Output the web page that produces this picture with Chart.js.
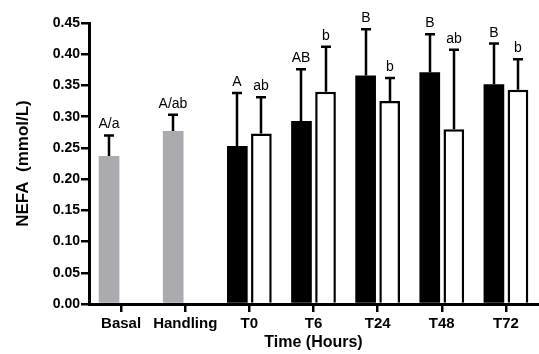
<!DOCTYPE html>
<html>
<head>
<meta charset="utf-8">
<script src="https://cdn.jsdelivr.net/npm/chart.js@4/dist/chart.umd.min.js"></script>
<style>
  html, body { margin: 0; padding: 0; background: #fff; }
  #wrap { width: 539px; height: 354px; }
</style>
</head>
<body>
<div id="wrap"><canvas id="c" width="539" height="354"></canvas></div>
<script>
// ---- Data ----
const categories = ['Basal', 'Handling', 'T0', 'T6', 'T24', 'T48', 'T72'];
const group1Values = [0.237, 0.277, 0.253, 0.293, 0.366, 0.371, 0.352];
const group1Errors = [0.033, 0.026, 0.085, 0.083, 0.074, 0.061, 0.065];
const group1Letters = ['A/a', 'A/ab', 'A', 'AB', 'B', 'B', 'B'];
const group2Values = [null, null, 0.273, 0.340, 0.325, 0.280, 0.343];
const group2Errors = [null, null, 0.058, 0.072, 0.037, 0.127, 0.049];
const group2Letters = [null, null, 'ab', 'b', 'b', 'ab', 'b'];
const yTicks = [0, 0.05, 0.10, 0.15, 0.20, 0.25, 0.30, 0.35, 0.40, 0.45];

const FONT = "'Liberation Sans', Arial, Helvetica, sans-serif";
const GREY = '#ababaf';

const errorPlugin = {
  id: 'errorBarsAndLetters',
  afterDatasetsDraw(chart) {
    const ctx = chart.ctx;
    const yScale = chart.scales.y;
    chart.data.datasets.forEach((ds, i) => {
      const meta = chart.getDatasetMeta(i);
      meta.data.forEach((el, j) => {
        const v = ds.data[j];
        if (v === null || v === undefined) return;
        const err = ds.errors[j];
        const x = Math.round(el.x);
        const yTop = el.y;
        const yErr = yScale.getPixelForValue(v + err);
        ctx.save();
        ctx.strokeStyle = '#000';
        ctx.lineWidth = 2.5;
        ctx.beginPath();
        ctx.moveTo(x, yTop);
        ctx.lineTo(x, yErr);
        ctx.moveTo(x - 5, yErr);
        ctx.lineTo(x + 5, yErr);
        ctx.stroke();
        const letter = ds.letters[j];
        if (letter) {
          ctx.fillStyle = '#000';
          ctx.font = '14px ' + FONT;
          ctx.textAlign = 'center';
          ctx.textBaseline = 'alphabetic';
          ctx.fillText(letter, x, yErr - 7);
        }
        ctx.restore();
      });
    });
  }
};

new Chart(document.getElementById('c'), {
  type: 'bar',
  data: {
    labels: categories,
    datasets: [
      {
        label: 'Group 1',
        data: group1Values,
        errors: group1Errors,
        letters: group1Letters,
        backgroundColor: categories.map((c, i) => i < 2 ? GREY : '#000'),
        borderColor: categories.map((c, i) => i < 2 ? GREY : '#000'),
        borderWidth: 0,
        barPercentage: 0.86,
        categoryPercentage: 0.75
      },
      {
        label: 'Group 2',
        data: group2Values,
        errors: group2Errors,
        letters: group2Letters,
        backgroundColor: '#fff',
        borderColor: '#000',
        borderWidth: 2.5,
        barPercentage: 0.86,
        categoryPercentage: 0.75
      }
    ]
  },
  options: {
    responsive: false,
    animation: false,
    devicePixelRatio: 1,
    layout: { padding: { top: 23, right: 1, bottom: 0, left: 0 } },
    plugins: {
      legend: { display: false },
      tooltip: { enabled: false }
    },
    scales: {
      x: {
        offset: true,
        grid: {
          offset: false,
          drawOnChartArea: false,
          drawTicks: true,
          tickLength: 8,
          color: '#000',
          lineWidth: 2.5
        },
        border: { display: true, color: '#000', width: 3 },
        ticks: {
          color: '#000',
          font: { family: FONT, size: 15, weight: 'bold' },
          padding: 3,
          maxRotation: 0,
          autoSkip: false
        },
        title: {
          display: true,
          text: 'Time (Hours)',
          color: '#000',
          font: { family: FONT, size: 16, weight: 'bold' },
          padding: { top: 0, bottom: 2 }
        },
        afterFit(scale) { scale.height = 50; }
      },
      y: {
        min: 0,
        max: 0.45,
        afterBuildTicks(scale) { scale.ticks = yTicks.map(v => ({ value: v })); },
        grid: {
          drawOnChartArea: false,
          drawTicks: true,
          tickLength: 8,
          color: '#000',
          lineWidth: 2.5
        },
        border: { display: true, color: '#000', width: 3 },
        ticks: {
          color: '#000',
          font: { family: FONT, size: 14, weight: 'bold' },
          padding: 1,
          callback: (v) => Number(v).toFixed(2)
        },
        title: {
          display: true,
          text: 'NEFA  (mmol/L)',
          color: '#000',
          font: { family: FONT, size: 17, weight: 'bold' },
          padding: { top: 13, bottom: 0 }
        },
        afterFit(scale) { scale.width = 89; }
      }
    }
  },
  plugins: [errorPlugin]
});
</script>
</body>
</html>
